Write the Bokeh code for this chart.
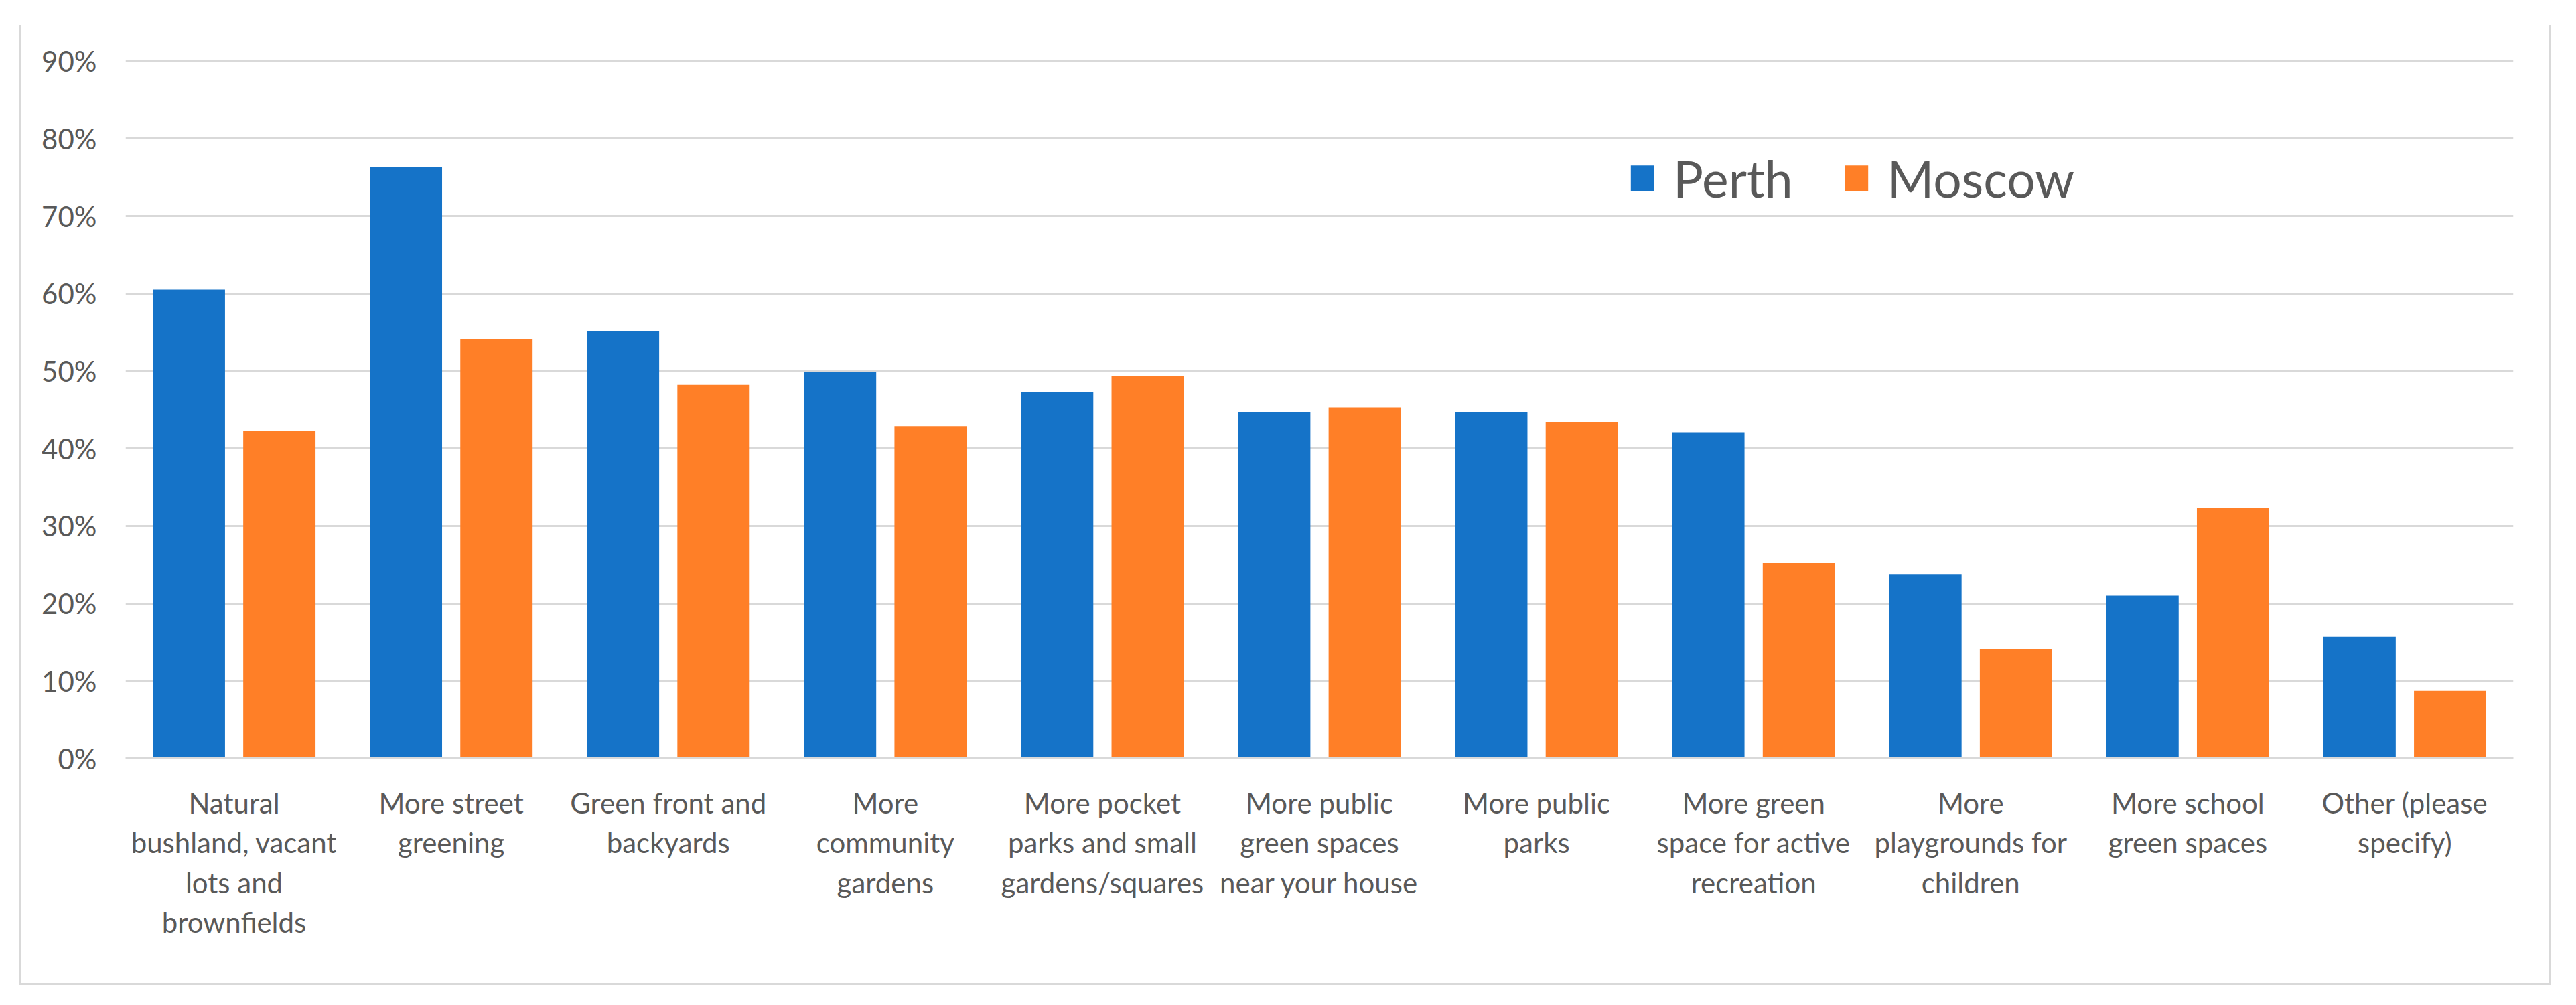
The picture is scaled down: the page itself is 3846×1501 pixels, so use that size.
from bokeh.plotting import figure
from bokeh.models import (FactorRange, FixedTicker, NumeralTickFormatter, Legend,
                          LegendItem, ColumnDataSource)
from bokeh.transform import dodge
from bokeh.embed import file_html
from bokeh.resources import INLINE

# ---- data ----
categories = [
    "Natural\nbushland, vacant\nlots and\nbrownfields",
    "More street\ngreening",
    "Green front and\nbackyards",
    "More\ncommunity\ngardens",
    "More pocket\nparks and small\ngardens/squares",
    "More public\ngreen spaces\nnear your house",
    "More public\nparks",
    "More green\nspace for active\nrecreation",
    "More\nplaygrounds for\nchildren",
    "More school\ngreen spaces",
    "Other (please\nspecify)",
]
perth = [0.605, 0.763, 0.552, 0.499, 0.473, 0.447, 0.447, 0.421, 0.237, 0.210, 0.157]
moscow = [0.423, 0.541, 0.482, 0.429, 0.494, 0.453, 0.434, 0.252, 0.141, 0.323, 0.087]
series = ["Perth", "Moscow"]
colors = ["#1573C8", "#FF7F27"]
y_ticks = [0.0, 0.1, 0.2, 0.3, 0.4, 0.5, 0.6, 0.7, 0.8, 0.9]

FONT = "Lato"
TXT = "#595959"
GRID = "#D9D9D9"

src = ColumnDataSource(data=dict(cat=categories, perth=perth, moscow=moscow))

p = figure(x_range=FactorRange(factors=categories), y_range=(0, 0.905),
           width=3773, height=1431,
           frame_width=3565, frame_height=1047,
           min_border_left=155, min_border_right=53,
           min_border_top=48, min_border_bottom=336,
           output_backend="svg", toolbar_location=None)
p.margin = (37, 0, 0, 29)
p.styles = {"border-left": "3px solid #D9D9D9",
            "border-right": "3px solid #D9D9D9",
            "border-bottom": "3px solid #D9D9D9"}

bw = 0.333
r1 = p.vbar(x=dodge("cat", -0.2085, range=p.x_range), top="perth", width=bw,
            source=src, fill_color=colors[0], line_color=None)
r2 = p.vbar(x=dodge("cat", 0.2085, range=p.x_range), top="moscow", width=bw,
            source=src, fill_color=colors[1], line_color=None)

p.outline_line_color = None
p.xgrid.grid_line_color = None
p.ygrid.ticker = FixedTicker(ticks=y_ticks)
p.ygrid.grid_line_color = GRID
p.ygrid.grid_line_width = 3

p.yaxis.ticker = FixedTicker(ticks=y_ticks)
p.yaxis.formatter = NumeralTickFormatter(format="0%")
p.yaxis.axis_line_color = None
p.yaxis.major_tick_line_color = None
p.yaxis.minor_tick_line_color = None
p.yaxis.major_label_standoff = 37
p.yaxis.major_label_text_font = FONT
p.yaxis.major_label_text_font_size = "42px"
p.yaxis.major_label_text_color = TXT

p.xaxis.axis_line_color = GRID
p.xaxis.axis_line_width = 3
p.xaxis.major_tick_line_color = None
p.xaxis.minor_tick_line_color = None
p.xaxis.major_label_standoff = 35
p.xaxis.major_label_text_font = FONT
p.xaxis.major_label_text_font_size = "42px"
p.xaxis.major_label_text_color = TXT
p.xaxis.major_label_text_line_height = 1.19

legend = Legend(items=[LegendItem(label=series[0], renderers=[r1]),
                       LegendItem(label=series[1], renderers=[r2])],
                orientation="horizontal", location=(2243, 821),
                glyph_width=43, glyph_height=48, label_standoff=25, spacing=73,
                label_text_font=FONT, label_text_font_size="75px",
                label_text_color=TXT, padding=0, margin=0,
                border_line_color=None, background_fill_alpha=0)
p.add_layout(legend)

open("out.html", "w").write(file_html(p, INLINE))
